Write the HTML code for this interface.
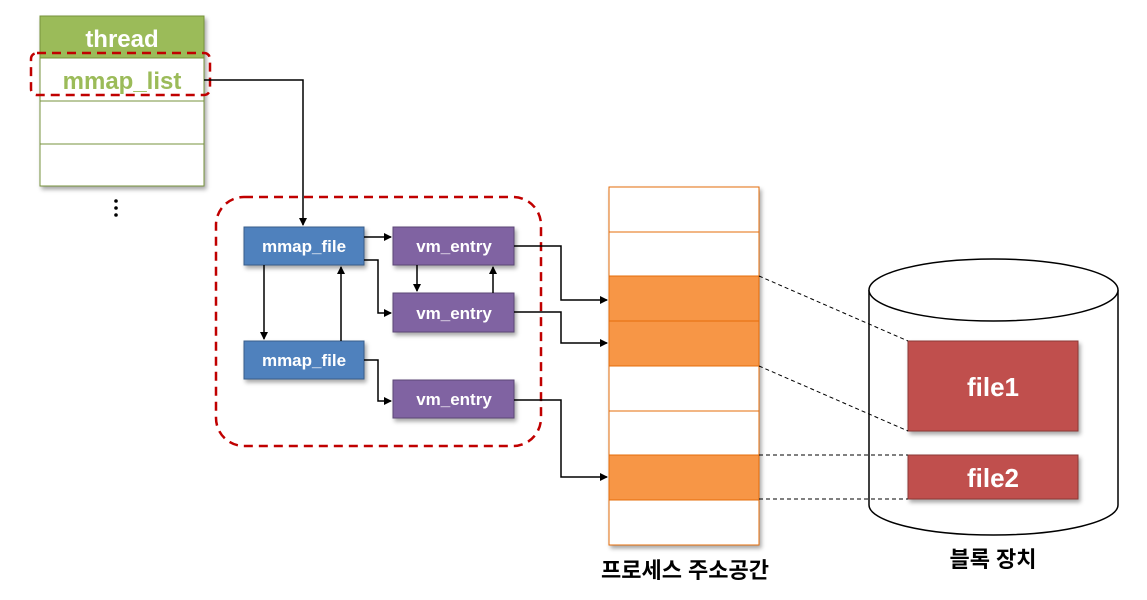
<!DOCTYPE html>
<html><head><meta charset="utf-8"><style>
html,body{margin:0;padding:0;background:#fff;}
svg{display:block;font-family:"Liberation Sans","Noto Sans CJK KR",sans-serif;}
</style></head><body>
<svg width="1147" height="600" viewBox="0 0 1147 600" xmlns="http://www.w3.org/2000/svg">
<defs>
<marker id="a" markerWidth="8" markerHeight="8" refX="7" refY="4" orient="auto" markerUnits="userSpaceOnUse"><path d="M0,0 L8,4 L0,8 Z" fill="#000"/></marker>
<filter id="sh" x="-10%" y="-10%" width="130%" height="140%"><feDropShadow dx="2" dy="3" stdDeviation="2" flood-color="#000" flood-opacity="0.35"/></filter>
</defs>
<!-- thread table -->
<g filter="url(#sh)">
<rect x="40" y="16" width="164" height="170" fill="#fff" stroke="#77933c"/>
</g>
<rect x="40" y="16" width="164" height="42" fill="#9bbb59" stroke="#77933c"/>
<text x="122" y="47" font-size="24" font-weight="bold" fill="#fff" text-anchor="middle">thread</text>
<line x1="40" y1="101" x2="204" y2="101" stroke="#77933c"/>
<line x1="40" y1="144" x2="204" y2="144" stroke="#77933c"/>
<text x="122" y="89" font-size="24" font-weight="bold" fill="#9bbb59" text-anchor="middle">mmap_list</text>
<rect x="31" y="53" width="179" height="42" rx="6" fill="none" stroke="#c00000" stroke-width="2.5" stroke-dasharray="9,6"/>
<circle cx="116" cy="201" r="1.8" fill="#000"/><circle cx="116" cy="208" r="1.8" fill="#000"/><circle cx="116" cy="215" r="1.8" fill="#000"/>
<!-- arrow from mmap_list -->
<polyline points="204,80 303,80 303,225" fill="none" stroke="#000" stroke-width="1.5" marker-end="url(#a)"/>
<!-- dashed group -->
<rect x="216" y="197" width="325" height="249" rx="28" fill="none" stroke="#c00000" stroke-width="2.5" stroke-dasharray="9,6"/>
<!-- boxes -->
<g filter="url(#sh)" font-size="17" font-weight="bold" fill="#fff" text-anchor="middle">
<rect x="244" y="227" width="120" height="38" fill="#4f81bd" stroke="#385d8a"/>
<rect x="244" y="341" width="120" height="38" fill="#4f81bd" stroke="#385d8a"/>
<rect x="393" y="227" width="121" height="38" fill="#8064a2" stroke="#5c4776"/>
<rect x="393" y="293" width="121" height="39" fill="#8064a2" stroke="#5c4776"/>
<rect x="393" y="380" width="121" height="38" fill="#8064a2" stroke="#5c4776"/>
</g>
<g font-size="17" font-weight="bold" fill="#fff" text-anchor="middle">
<text x="304" y="252">mmap_file</text>
<text x="304" y="366">mmap_file</text>
<text x="454" y="252">vm_entry</text>
<text x="454" y="319">vm_entry</text>
<text x="454" y="405">vm_entry</text>
</g>
<g fill="none" stroke="#000" stroke-width="1.5">
<line x1="364" y1="237" x2="391" y2="237" marker-end="url(#a)"/>
<polyline points="364,260 378,260 378,313 391,313" marker-end="url(#a)"/>
<line x1="264" y1="265" x2="264" y2="339" marker-end="url(#a)"/>
<line x1="341" y1="341" x2="341" y2="267" marker-end="url(#a)"/>
<line x1="417" y1="265" x2="417" y2="291" marker-end="url(#a)"/>
<line x1="493" y1="293" x2="493" y2="267" marker-end="url(#a)"/>
<polyline points="364,360 378,360 378,401 391,401" marker-end="url(#a)"/>
<polyline points="514,246 561,246 561,300 607,300" marker-end="url(#a)"/>
<polyline points="514,312 561,312 561,343 607,343" marker-end="url(#a)"/>
<polyline points="514,400 561,400 561,477 607,477" marker-end="url(#a)"/>
</g>
<!-- address space -->
<g filter="url(#sh)"><rect x="609" y="187" width="150" height="358" fill="#fff" stroke="#e46c0a"/></g>
<rect x="609" y="276" width="150" height="90" fill="#f79646"/>
<rect x="609" y="455" width="150" height="45" fill="#f79646"/>
<rect x="609" y="187" width="150" height="358" fill="none" stroke="#e46c0a"/>
<g stroke="#e46c0a"><line x1="609" y1="232" x2="759" y2="232"/><line x1="609" y1="276" x2="759" y2="276"/><line x1="609" y1="321" x2="759" y2="321"/><line x1="609" y1="366" x2="759" y2="366"/><line x1="609" y1="411" x2="759" y2="411"/><line x1="609" y1="455" x2="759" y2="455"/><line x1="609" y1="500" x2="759" y2="500"/></g>
<text x="685" y="578" font-size="22" font-weight="bold" fill="#000" text-anchor="middle">프로세스 주소공간</text>
<!-- cylinder -->
<path d="M869,290 L869,505 A124.5,30 0 0 0 1118,505 L1118,290" fill="#fff" stroke="#000" stroke-width="1.5"/>
<ellipse cx="993.5" cy="290" rx="124.5" ry="31" fill="#fff" stroke="#000" stroke-width="1.5"/>
<g filter="url(#sh)">
<rect x="908" y="341" width="170" height="90" fill="#c0504d" stroke="#8c3836"/>
<rect x="908" y="455" width="170" height="44" fill="#c0504d" stroke="#8c3836"/>
</g>
<text x="993" y="396" font-size="26" font-weight="bold" fill="#fff" text-anchor="middle">file1</text>
<text x="993" y="487" font-size="26" font-weight="bold" fill="#fff" text-anchor="middle">file2</text>
<g stroke="#000" stroke-dasharray="4,3" fill="none">
<line x1="759" y1="276" x2="908" y2="341"/>
<line x1="759" y1="366" x2="908" y2="431"/>
<line x1="759" y1="455" x2="908" y2="455"/>
<line x1="759" y1="499" x2="908" y2="499"/>
</g>
<text x="993" y="567" font-size="22" font-weight="bold" fill="#000" text-anchor="middle">블록 장치</text>
</svg>
</body></html>
